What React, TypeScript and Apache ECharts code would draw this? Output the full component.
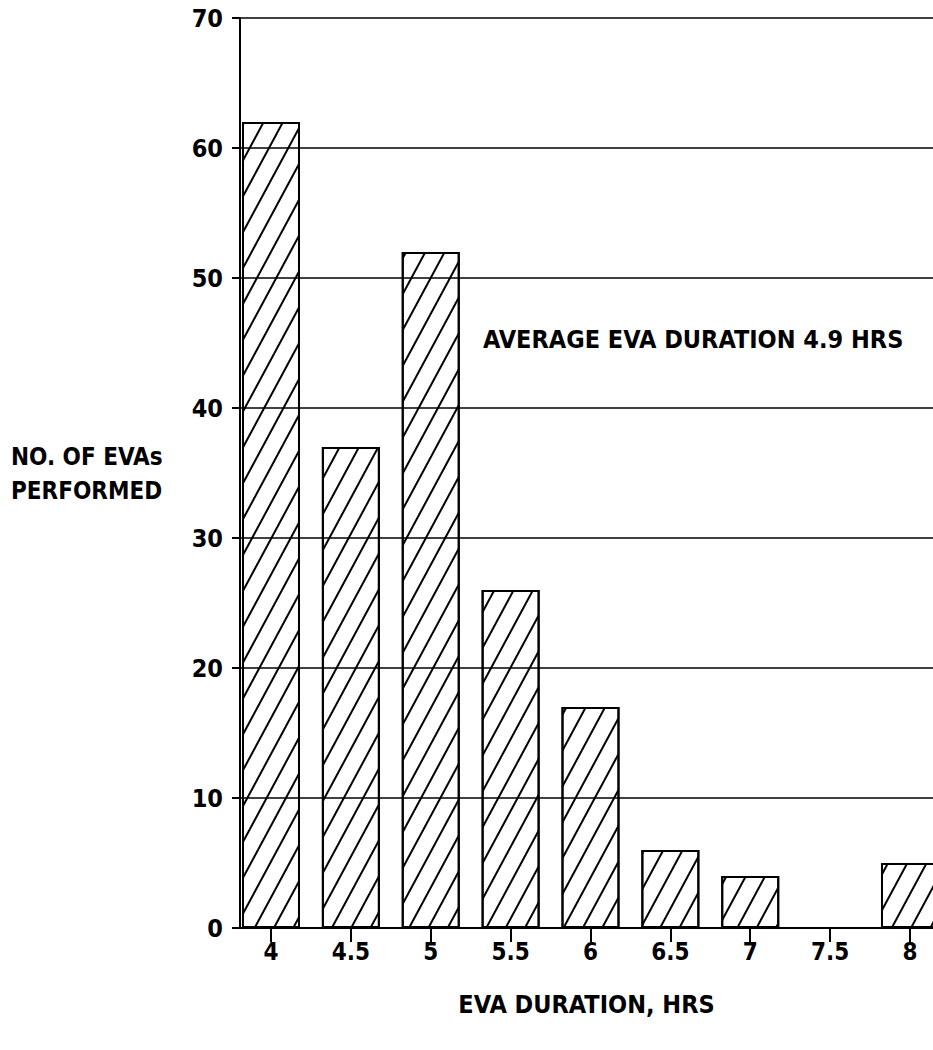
import React, { useEffect, useRef } from "react";
import * as echarts from "echarts";

const durations = [4, 4.5, 5, 5.5, 6, 6.5, 7, 7.5, 8];
const tickLabels = ["4", "4.5", "5", "5.5", "6", "6.5", "7", "7.5", "8"];
const evaCounts = [62, 37, 52, 26, 17, 6, 4, 0, 5];
const yTicks = [0, 10, 20, 30, 40, 50, 60, 70];

const FONT = "'Liberation Sans Narrow', 'DejaVu Sans Condensed', 'Arial Narrow', sans-serif";

export default function App() {
  const ref = useRef<HTMLDivElement>(null);
  useEffect(() => {
    document.body.style.margin = "0";
    const chart = echarts.init(ref.current!, null, { renderer: "svg" });
    chart.setOption({
      animation: false,
      backgroundColor: "#fff",
      grid: { left: 240, right: 0, top: 18, bottom: 122, containLabel: false },
      xAxis: {
        type: "value",
        min: 3.806,
        max: 8.144,
        name: "EVA DURATION, HRS",
        nameLocation: "middle",
        nameGap: 64,
        nameTextStyle: { fontFamily: FONT, fontWeight: "bold", fontSize: 25, color: "#000" },
        splitLine: { show: false },
        axisLine: { show: true, lineStyle: { color: "#000", width: 2 } },
        axisTick: { show: true, customValues: durations, length: 14, lineStyle: { color: "#000", width: 2 } },
        axisLabel: {
          customValues: durations,
          formatter: (v: number) => tickLabels[durations.indexOf(v)] ?? String(v),
          margin: 12,
          fontFamily: FONT,
          fontWeight: "bold",
          fontSize: 24,
          color: "#000",
        },
      },
      yAxis: {
        type: "value",
        min: 0,
        max: 70,
        interval: 10,
        axisLine: { show: true, lineStyle: { color: "#000", width: 2 } },
        axisTick: { show: true, length: 8, lineStyle: { color: "#000", width: 2 } },
        splitLine: { show: true, lineStyle: { color: "#000", width: 1.5 } },
        axisLabel: {
          margin: 17,
          fontFamily: FONT,
          fontWeight: "bold",
          fontSize: 25,
          color: "#000",
          formatter: (v: number) => (yTicks.includes(v) ? String(v) : ""),
        },
      },
      graphic: [
        {
          type: "text",
          left: 11,
          top: 440,
          style: {
            text: "NO. OF EVAs\nPERFORMED",
            font: `bold 24px ${FONT}`,
            fill: "#000",
            lineHeight: 34,
          },
        },
        {
          type: "text",
          left: 483,
          top: 327,
          style: {
            text: "AVERAGE EVA DURATION 4.9 HRS",
            font: `bold 25px ${FONT}`,
            fill: "#000",
          },
        },
      ],
      series: [
        {
          type: "bar",
          data: durations.map((d, i) => [d, evaCounts[i]]),
          barWidth: 58,
          itemStyle: {
            color: "rgba(255,255,255,0)",
            borderColor: "#000",
            borderWidth: 2,
            decal: {
              symbol: "rect",
              symbolSize: 1,
              color: "#000",
              backgroundColor: "rgba(255,255,255,0)",
              dashArrayX: [1, 0],
              dashArrayY: [2, 15],
              rotation: -1.077,
            },
          },
        },
      ],
    });
    return () => chart.dispose();
  }, []);
  return <div ref={ref} style={{ width: 933, height: 1050 }} />;
}
